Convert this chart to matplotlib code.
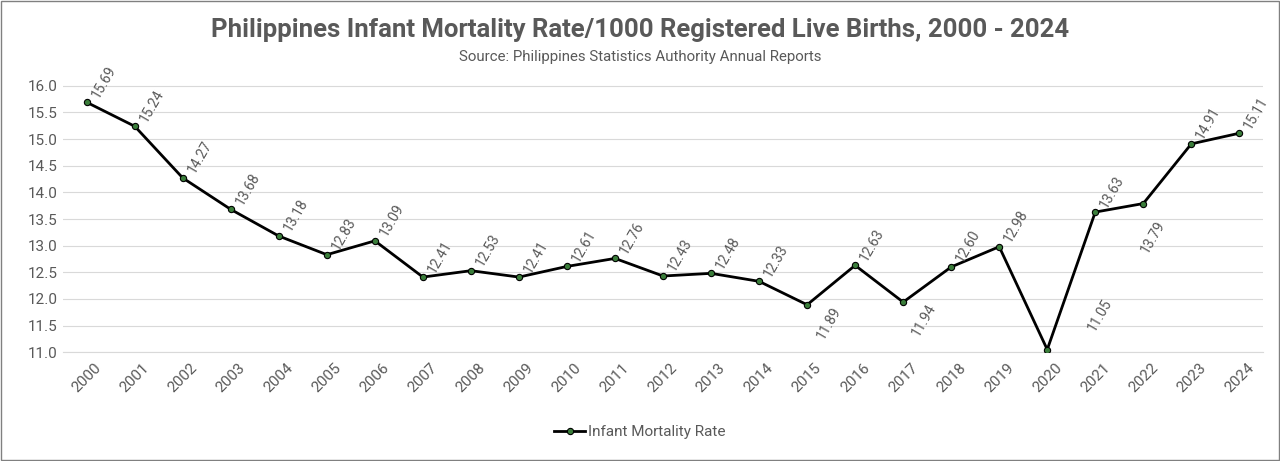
import matplotlib
matplotlib.use("Agg")
import matplotlib.pyplot as plt

years = [str(y) for y in range(2000, 2025)]
rates = [15.69, 15.24, 14.27, 13.68, 13.18, 12.83, 13.09, 12.41, 12.53, 12.41,
         12.61, 12.76, 12.43, 12.48, 12.33, 11.89, 12.63, 11.94, 12.60, 12.98,
         11.05, 13.63, 13.79, 14.91, 15.11]
# labels drawn under / beside the point instead of above
below = {"2015": (22, -2), "2017": (21, -2), "2020": (44, 36), "2022": (13, -13)}

plt.rcParams["font.family"] = ["Roboto", "DejaVu Sans"]
grey = "#595959"

fig = plt.figure(figsize=(12.8, 4.61), dpi=100)
ax = fig.add_axes([0.049, 0.236, 0.938, 0.601])
x = list(range(len(years)))
ax.plot(x, rates, color="black", lw=2, marker="o", markersize=4.5,
        markerfacecolor="#3a7d3a", markeredgecolor="black", markeredgewidth=0.8,
        label="Infant Mortality Rate", zorder=3)

for i, (yr, v) in enumerate(zip(years, rates)):
    if yr in below:
        ax.annotate(f"{v:.2f}", (i, v), xytext=below[yr], textcoords="offset points",
                    rotation=60, rotation_mode="anchor", ha="right", va="center",
                    fontsize=10, color=grey)
    else:
        ax.annotate(f"{v:.2f}", (i, v), xytext=(6, 4), textcoords="offset points",
                    rotation=60, rotation_mode="anchor", ha="left", va="center",
                    fontsize=10, color=grey)

ax.set_xlim(-0.5, len(years) - 0.5)
ax.set_ylim(11.0, 16.2)
ax.set_yticks([11 + 0.5 * k for k in range(11)])
ax.set_yticklabels([f"{11 + 0.5 * k:.1f}" for k in range(11)])
ax.set_xticks(x)
ax.set_xticklabels(years, rotation=45)
ax.tick_params(axis="both", length=0, labelsize=11, colors=grey)
ax.tick_params(axis="x", pad=6)
ax.grid(axis="y", color="#d9d9d9", lw=0.8)
ax.set_axisbelow(True)
for s in ["top", "right", "left"]:
    ax.spines[s].set_visible(False)
ax.spines["bottom"].set_color("#d9d9d9")

fig.text(0.5, 0.935, "Philippines Infant Mortality Rate/1000 Registered Live Births, 2000 - 2024",
         ha="center", va="center", fontsize=18.5, fontweight="bold", color=grey)
fig.text(0.5, 0.877, "Source: Philippines Statistics Authority Annual Reports",
         ha="center", va="center", fontsize=10.8, color=grey)
fig.legend(loc="center", bbox_to_anchor=(0.5, 0.063), frameon=False, fontsize=11,
           labelcolor=grey, handlelength=2, handletextpad=0.2)
fig.patches.append(plt.Rectangle((0.001, 0.002), 0.998, 0.996, transform=fig.transFigure,
                                 fill=False, edgecolor="#808080", lw=1))
fig.savefig("out.png", dpi=100)
